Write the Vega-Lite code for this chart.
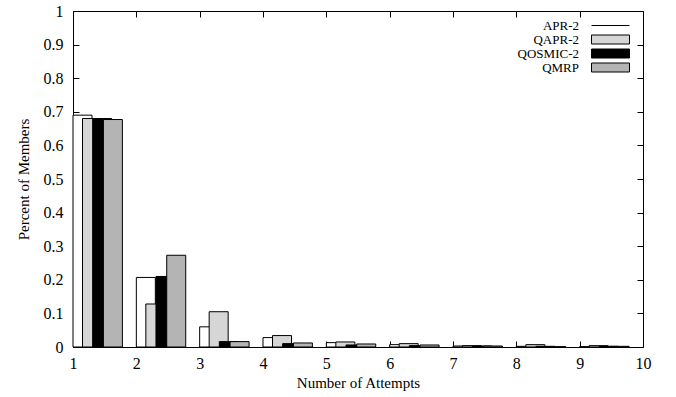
{
  "$schema": "https://vega.github.io/schema/vega-lite/v6.json",
  "width": 570,
  "height": 336,
  "autosize": "none",
  "padding": {"left": 73, "top": 11, "right": 33, "bottom": 50},
  "background": "white",
  "config": {
    "font": "Liberation Serif",
    "view": {"stroke": "black", "strokeWidth": 1},
    "axis": {
      "domain": false,
      "grid": false,
      "tickColor": "black",
      "tickSize": -6,
      "tickWidth": 1,
      "labelColor": "black",
      "labelFont": "Liberation Serif",
      "labelFontSize": 16,
      "titleFont": "Liberation Serif",
      "titleFontSize": 15,
      "titleFontWeight": "normal",
      "titleColor": "black"
    }
  },
  "data": {
    "values": [
      {"attempts": 1, "protocol": "APR-2", "percent": 0.69},
      {"attempts": 2, "protocol": "APR-2", "percent": 0.207},
      {"attempts": 3, "protocol": "APR-2", "percent": 0.06},
      {"attempts": 4, "protocol": "APR-2", "percent": 0.028},
      {"attempts": 5, "protocol": "APR-2", "percent": 0.013},
      {"attempts": 6, "protocol": "APR-2", "percent": 0.007},
      {"attempts": 7, "protocol": "APR-2", "percent": 0.003},
      {"attempts": 8, "protocol": "APR-2", "percent": 0.002},
      {"attempts": 9, "protocol": "APR-2", "percent": 0.001},
      {"attempts": 1, "protocol": "QAPR-2", "percent": 0.68},
      {"attempts": 2, "protocol": "QAPR-2", "percent": 0.128},
      {"attempts": 3, "protocol": "QAPR-2", "percent": 0.105},
      {"attempts": 4, "protocol": "QAPR-2", "percent": 0.034},
      {"attempts": 5, "protocol": "QAPR-2", "percent": 0.015},
      {"attempts": 6, "protocol": "QAPR-2", "percent": 0.01},
      {"attempts": 7, "protocol": "QAPR-2", "percent": 0.004},
      {"attempts": 8, "protocol": "QAPR-2", "percent": 0.007},
      {"attempts": 9, "protocol": "QAPR-2", "percent": 0.004},
      {"attempts": 1, "protocol": "QOSMIC-2", "percent": 0.68},
      {"attempts": 2, "protocol": "QOSMIC-2", "percent": 0.21},
      {"attempts": 3, "protocol": "QOSMIC-2", "percent": 0.016},
      {"attempts": 4, "protocol": "QOSMIC-2", "percent": 0.01},
      {"attempts": 5, "protocol": "QOSMIC-2", "percent": 0.006},
      {"attempts": 6, "protocol": "QOSMIC-2", "percent": 0.004},
      {"attempts": 7, "protocol": "QOSMIC-2", "percent": 0.003},
      {"attempts": 8, "protocol": "QOSMIC-2", "percent": 0.002},
      {"attempts": 9, "protocol": "QOSMIC-2", "percent": 0.002},
      {"attempts": 1, "protocol": "QMRP", "percent": 0.677},
      {"attempts": 2, "protocol": "QMRP", "percent": 0.273},
      {"attempts": 3, "protocol": "QMRP", "percent": 0.016},
      {"attempts": 4, "protocol": "QMRP", "percent": 0.012},
      {"attempts": 5, "protocol": "QMRP", "percent": 0.009},
      {"attempts": 6, "protocol": "QMRP", "percent": 0.006},
      {"attempts": 7, "protocol": "QMRP", "percent": 0.003},
      {"attempts": 8, "protocol": "QMRP", "percent": 0.001},
      {"attempts": 9, "protocol": "QMRP", "percent": 0.002}
    ]
  },
  "transform": [
    {"calculate": "datum.attempts + [0, 0.15, 0.31, 0.48][indexof(['APR-2', 'QAPR-2', 'QOSMIC-2', 'QMRP'], datum.protocol)]", "as": "x0"},
    {"calculate": "datum.x0 + 0.3", "as": "x1"}
  ],
  "resolve": {"axis": {"x": "independent", "y": "independent"}},
  "layer": [
    {
      "mark": {"type": "rect", "stroke": "black", "strokeWidth": 1},
      "encoding": {
        "x": {
          "field": "x0", "type": "quantitative",
          "scale": {"domain": [1, 10], "nice": false, "zero": false},
          "axis": {"orient": "bottom", "values": [1, 2, 3, 4, 5, 6, 7, 8, 9, 10], "format": "d", "labelPadding": 14, "title": "Number of Attempts", "titlePadding": 4, "labelFlush": false}
        },
        "x2": {"field": "x1"},
        "y": {
          "field": "percent", "type": "quantitative",
          "scale": {"domain": [0, 1], "nice": false},
          "axis": {"orient": "left", "values": [0, 0.1, 0.2, 0.3, 0.4, 0.5, 0.6, 0.7, 0.8, 0.9, 1], "format": ".1~f", "labelPadding": 16, "title": "Percent of Members", "titlePadding": 12, "labelFlush": false}
        },
        "y2": {"datum": 0},
        "fill": {
          "field": "protocol", "type": "nominal",
          "scale": {"domain": ["APR-2", "QAPR-2", "QOSMIC-2", "QMRP"], "range": ["white", "#d6d6d6", "black", "#b4b4b4"]},
          "legend": {
            "orient": "none",
            "legendX": 531,
            "legendY": 8,
            "title": null,
            "padding": 0,
            "labelAlign": "right",
            "labelOffset": -38,
            "labelFont": "Liberation Serif",
            "labelFontSize": 13,
            "labelColor": "black",
            "labelLimit": 200,
            "symbolType": "M-3.8,-0.95H3.8V0.95H-3.8Z",
            "symbolSize": 100,
            "symbolStrokeColor": "black",
            "symbolStrokeWidth": 1,
            "rowPadding": -1,
            "encode": {
              "symbols": {"update": {"shape": {"signal": "datum.value === 'APR-2' ? 'M-3.8,0H3.8' : 'M-3.8,-0.9H3.8V0.9H-3.8Z'"}}}
            }
          }
        }
      }
    },
    {
      "mark": {"type": "rect", "opacity": 0},
      "encoding": {
        "x": {"field": "x0", "type": "quantitative", "axis": {"orient": "top", "values": [1, 2, 3, 4, 5, 6, 7, 8, 9, 10], "labels": false, "title": null}},
        "x2": {"field": "x1"},
        "y": {"field": "percent", "type": "quantitative", "axis": {"orient": "right", "values": [0, 0.1, 0.2, 0.3, 0.4, 0.5, 0.6, 0.7, 0.8, 0.9, 1], "labels": false, "title": null}},
        "y2": {"datum": 0}
      }
    }
  ]
}
